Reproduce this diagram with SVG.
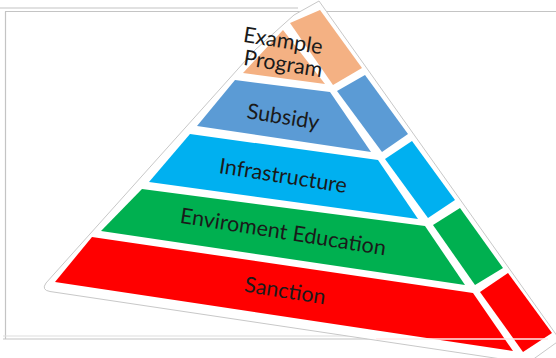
<svg xmlns="http://www.w3.org/2000/svg" width="556" height="358" viewBox="0 0 556 358">
  <style>
    .lbl { font-family: Lato, "Open Sans", "Liberation Sans", sans-serif; font-size: 21.5px; fill: #1a1a1a; text-anchor: middle; }
    .frame { stroke: #c4c4c4; stroke-width: 1.2; fill: none; }
    .orange { fill: #F4B183; }
    .blue { fill: #5B9BD5; }
    .cyan { fill: #00B0F0; }
    .green { fill: #00B050; }
    .red { fill: #FF0000; }
  </style>
  <rect width="556" height="358" fill="#ffffff"/>
  <g id="frame">
    <line class="frame" x1="0" y1="8" x2="298" y2="8" stroke="#dcdcdc"/>
    <line class="frame" x1="5" y1="11.5" x2="556" y2="11.5"/>
    <line class="frame" x1="5.5" y1="11.5" x2="5.5" y2="339"/>
    <line class="frame" x1="3" y1="336" x2="352" y2="336" style="stroke:#dedede"/>
    <line class="frame" x1="3" y1="339" x2="376" y2="339"/>
  </g>
  <g id="outline">
    <path d="M319,1 L294,15 L255,50 L46,283 Q41,290 50,291.5 L528,363 L560,340 Z" fill="#ffffff" stroke="#c8c8c8" stroke-width="1" stroke-linejoin="round"/>
  </g>
  <g id="connectors"/>
  <g id="example-program">
    <polygon class="orange" points="283,30 243,73 325,84"/>
    <polygon class="orange" points="290,23 320,10 362,68 333,85"/>
    <text class="lbl" transform="rotate(9 282 48)" x="282" y="48">Example</text>
    <text class="lbl" transform="rotate(9 282 71)" x="282" y="71">Program</text>
  </g>
  <g id="subsidy">
    <polygon class="blue" points="235,80 330,92 371,152 197,126"/>
    <polygon class="blue" points="337,91 365,75 408,134 382,152"/>
    <text class="lbl" transform="rotate(9 282 124)" x="282" y="124">Subsidy</text>
  </g>
  <g id="infrastructure">
    <polygon class="cyan" points="190,134 378,160 418,219 149,182"/>
    <polygon class="cyan" points="385,159 412,141 455,200 428,218"/>
    <text class="lbl" transform="rotate(9 282 183)" x="282" y="183">Infrastructure</text>
  </g>
  <g id="enviroment-education">
    <polygon class="green" points="142,189 425,226 465,285 101,231"/>
    <polygon class="green" points="433,225 460,208 503,268 475,285"/>
    <text class="lbl" transform="rotate(9 282 239)" x="282" y="239">Enviroment Education</text>
  </g>
  <g id="sanction">
    <polygon class="red" points="92,237 473,293 513,351 55,282"/>
    <polygon class="red" points="480,292 508,273 552,333 523,352"/>
    <text class="lbl" transform="rotate(9 284 298)" x="284" y="298">Sanction</text>
  </g>
  <line x1="376" y1="339" x2="548" y2="339" stroke="#ffe8e8" stroke-width="1.5"/>
</svg>
